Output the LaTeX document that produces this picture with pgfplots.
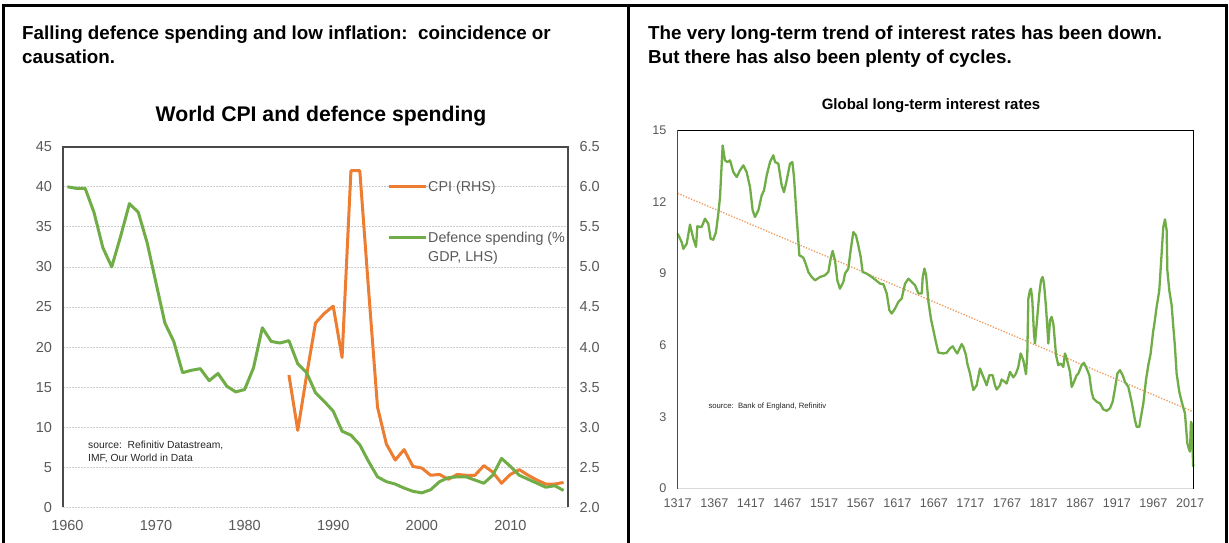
\documentclass[border=0pt]{standalone}
\usepackage{pgfplots}
\usepackage{pgfplotstable}
\pgfplotsset{compat=1.18}
\usepackage{fontspec}
\setmainfont{Liberation Sans}

\definecolor{cpiorange}{HTML}{ED7D31}
\definecolor{defgreen}{HTML}{70AD47}
\definecolor{labelgray}{HTML}{595959}
\definecolor{gridgray}{HTML}{CCCCCC}
\definecolor{framegray}{HTML}{4A4A4A}
\definecolor{trendorange}{HTML}{F19A5C}
\definecolor{basegray}{HTML}{D9D9D9}

% legend keys: a short line at text height; the two-line entry keeps its key on the first line
\pgfplotsset{
  keyline/.style={legend image code/.code={\draw[##1, line cap=butt] (0pt,5pt) -- (37pt,5pt);}},
  keylinetop/.style={legend image code/.code={\draw[##1, line cap=butt] (0pt,24pt) -- (37pt,24pt);}},
}

% Defence spending, % of GDP (left-hand scale)
\pgfplotstableread{
year def
1960 40.0
1961 39.8
1962 39.8
1963 36.8
1964 32.4
1965 30.0
1966 33.8
1967 37.9
1968 36.8
1969 33.0
1970 28.0
1971 23.0
1972 20.7
1973 16.8
1974 17.1
1975 17.3
1976 15.8
1977 16.7
1978 15.1
1979 14.4
1980 14.7
1981 17.4
1982 22.4
1983 20.7
1984 20.5
1985 20.8
1986 17.9
1987 16.8
1988 14.3
1989 13.2
1990 12.0
1991 9.5
1992 9.0
1993 7.8
1994 5.7
1995 3.8
1996 3.2
1997 2.9
1998 2.4
1999 2.0
2000 1.8
2001 2.2
2002 3.2
2003 3.7
2004 3.8
2005 3.8
2006 3.4
2007 3.0
2008 4.0
2009 6.1
2010 5.1
2011 4.0
2012 3.5
2013 3.0
2014 2.5
2015 2.7
2016 2.1
}\defencetable

% World CPI (right-hand scale)
\pgfplotstableread{
year cpi
1985 3.65
1986 2.96
1987 3.65
1988 4.30
1989 4.42
1990 4.51
1991 3.87
1992 6.20
1993 6.20
1994 4.70
1995 3.25
1996 2.79
1997 2.59
1998 2.72
1999 2.51
2000 2.49
2001 2.40
2002 2.41
2003 2.35
2004 2.41
2005 2.40
2006 2.40
2007 2.52
2008 2.44
2009 2.30
2010 2.41
2011 2.47
2012 2.40
2013 2.34
2014 2.29
2015 2.29
2016 2.31
}\cpitable

% Global long-term interest rates, %
\pgfplotstableread{
year rate
1317.0 10.66
1322.4 10.31
1324.7 10.03
1329.3 10.24
1333.8 11.04
1338.4 10.45
1342.0 10.11
1343.8 10.97
1349.7 10.94
1354.3 11.29
1358.8 11.08
1362.0 10.45
1365.6 10.41
1369.3 10.73
1372.5 11.50
1374.8 12.19
1378.4 14.35
1381.6 13.73
1384.8 13.66
1388.5 13.73
1393.0 13.24
1397.6 13.03
1402.1 13.31
1406.7 13.52
1411.2 13.24
1415.8 12.61
1419.4 11.64
1422.6 11.36
1427.2 11.64
1431.7 12.26
1434.9 12.47
1438.6 13.10
1443.1 13.66
1447.7 13.94
1450.0 13.66
1454.5 13.59
1459.1 12.68
1462.2 12.40
1465.9 12.89
1470.4 13.59
1473.6 13.66
1475.9 13.03
1479.5 11.36
1483.2 9.76
1488.6 9.66
1491.8 9.41
1495.5 9.06
1500.0 8.85
1504.6 8.71
1511.4 8.85
1518.3 8.92
1522.8 9.06
1526.0 9.62
1528.7 9.94
1531.9 9.55
1535.1 8.71
1538.7 8.36
1543.3 8.64
1545.6 8.99
1550.1 9.20
1553.3 9.97
1557.0 10.73
1560.6 10.59
1563.8 10.17
1567.0 9.69
1569.7 9.06
1575.2 8.99
1582.1 8.85
1588.0 8.71
1593.5 8.57
1598.0 8.55
1602.6 8.16
1606.2 7.46
1609.4 7.32
1614.0 7.53
1618.5 7.81
1623.1 7.95
1627.6 8.57
1632.2 8.78
1636.7 8.64
1641.3 8.50
1645.9 8.16
1650.4 8.16
1651.8 8.85
1654.1 9.20
1656.4 8.92
1659.6 7.81
1663.0 7.10
1666.5 6.60
1670.0 6.10
1673.1 5.69
1679.9 5.65
1684.5 5.68
1689.0 5.86
1692.7 5.95
1697.2 5.72
1699.0 5.65
1705.0 6.04
1707.2 5.93
1710.9 5.58
1712.7 5.23
1716.4 4.81
1718.6 4.46
1720.9 4.12
1725.5 4.32
1730.0 5.02
1734.6 4.67
1739.1 4.32
1742.8 4.74
1747.3 4.74
1750.5 4.32
1752.8 4.14
1757.3 4.32
1759.6 4.56
1764.2 4.46
1766.5 4.39
1771.0 4.88
1775.6 4.65
1779.2 4.81
1782.4 5.09
1785.6 5.65
1789.2 5.37
1792.9 4.78
1794.7 5.65
1796.1 7.94
1798.3 8.29
1799.7 8.36
1801.5 7.88
1803.8 6.48
1805.2 6.07
1811.1 8.16
1813.4 8.71
1815.6 8.85
1817.5 8.57
1820.2 7.60
1822.0 6.76
1823.4 6.07
1825.7 7.04
1827.9 7.18
1830.2 6.90
1831.1 6.62
1833.9 5.58
1837.0 5.16
1840.2 5.23
1843.9 5.09
1846.1 5.65
1848.4 5.44
1853.0 4.88
1855.3 4.25
1857.5 4.39
1862.1 4.74
1864.4 4.81
1868.9 5.16
1872.1 5.26
1875.8 5.02
1879.4 4.74
1882.6 4.04
1884.9 3.77
1889.4 3.63
1894.0 3.56
1898.5 3.31
1903.1 3.25
1907.6 3.35
1911.3 3.63
1914.5 4.18
1917.7 4.81
1921.3 4.95
1925.0 4.74
1928.1 4.46
1932.7 4.25
1937.2 3.63
1941.8 2.86
1944.1 2.58
1947.7 2.58
1950.0 3.00
1953.2 3.56
1956.8 4.53
1960.0 5.16
1963.2 5.65
1966.8 6.62
1967.7 6.76
1971.4 7.60
1975.0 8.29
1978.2 9.83
1980.5 10.94
1982.8 11.26
1985.1 10.80
1986.0 9.13
1988.7 8.29
1991.9 7.67
1994.2 6.76
1996.4 5.93
1998.7 4.81
2002.4 4.04
2005.6 3.63
2010.1 3.14
2013.3 1.89
2016.0 1.61
2016.9 1.54
2018.3 2.79
2019.2 2.72
2020.6 1.61
2021.3 0.91
}\ratetable

\begin{document}
\begin{tikzpicture}
\path[use as bounding box] (0pt,0pt) rectangle (1229pt,-543pt);

\begin{scope}[x=1pt,y=-1pt]
  \fill[white] (0,0) rectangle (1229,543);
  % panel borders
  \draw[black,line width=2.5pt] (1.8,5.3) -- (1227.5,5.3);
  \draw[black,line width=3pt] (3.3,4) -- (3.3,543);
  \draw[black,line width=3pt] (628.7,4) -- (628.7,543);
  \draw[black,line width=3pt] (1226,4) -- (1226,543);

  % headings
  \node[anchor=base west, inner sep=0pt, font=\fontsize{18.8}{24}\selectfont\bfseries]
    at (22,39.5) {Falling defence spending and low inflation:\ \ coincidence or};
  \node[anchor=base west, inner sep=0pt, font=\fontsize{18.8}{24}\selectfont\bfseries]
    at (22,63.5) {causation.};
  \node[anchor=base west, inner sep=0pt, font=\fontsize{18.8}{24}\selectfont\bfseries]
    at (648,39.5) {The very long-term trend of interest rates has been down.};
  \node[anchor=base west, inner sep=0pt, font=\fontsize{18.8}{24}\selectfont\bfseries]
    at (648,63.5) {But there has also been plenty of cycles.};

  % chart titles
  \node[anchor=base, inner sep=0pt, font=\fontsize{21.2}{22}\selectfont\bfseries]
    at (321,121.2) {World CPI and defence spending};
  \node[anchor=base, inner sep=0pt, font=\fontsize{15}{15}\selectfont\bfseries]
    at (931,109.4) {Global long-term interest rates};

  % sources
  \node[anchor=base west, inner sep=0pt, text=black!85, font=\fontsize{10.3}{12}\selectfont]
    at (88,448.7) {source:\ \ Refinitiv Datastream,};
  \node[anchor=base west, inner sep=0pt, text=black!85, font=\fontsize{10.3}{12}\selectfont]
    at (88,461) {IMF, Our World in Data};
  \node[anchor=base west, inner sep=0pt, text=black!85, font=\fontsize{7.7}{9}\selectfont]
    at (708.3,408) {source:\ \ Bank of England, Refinitiv};
\end{scope}

% ---------- left chart: CPI on the right-hand scale ----------
\begin{axis}[
  at={(63pt,-507.3pt)}, anchor=south west,
  scale only axis, width=505pt, height=360.6pt,
  xmin=1959.5, xmax=2016.5, ymin=2, ymax=6.5,
  axis x line=none, xtick=\empty,
  axis y line*=right,
  y axis line style={draw=none},
  ytick={2,2.5,3,3.5,4,4.5,5,5.5,6,6.5},
  ymajorgrids,
  major grid style={gridgray, line width=0.8pt, dash pattern=on 2pt off 1pt},
  major tick length=0pt,
  yticklabel style={font=\fontsize{14.5}{14.5}\selectfont, text=labelgray, xshift=8pt,
    /pgf/number format/.cd, fixed, fixed zerofill, precision=1, assume math mode=true},
]
\addplot[cpiorange, line width=3pt, line join=round] table[x=year, y=cpi] {\cpitable};
\end{axis}

% ---------- left chart: defence spending on the left-hand scale ----------
\begin{axis}[
  at={(63pt,-507.3pt)}, anchor=south west,
  scale only axis, width=505pt, height=360.6pt,
  xmin=1959.5, xmax=2016.5, ymin=0, ymax=45,
  axis line style={draw=none},
  clip=false,
  xtick={1960,1970,1980,1990,2000,2010},
  ytick={0,5,10,15,20,25,30,35,40,45},
  major tick length=0pt,
  tick label style={font=\fontsize{14.5}{14.5}\selectfont, text=labelgray},
  yticklabel style={xshift=-7.5pt},
  xticklabel style={yshift=-9.4pt},
  /pgf/number format/assume math mode=true,
  /pgf/number format/1000 sep={},
  legend cell align=left,
  legend style={at={(axis description cs:0.6416,0.9077)}, anchor=north west,
    draw=none, fill=none, inner sep=0pt,
    font=\fontsize{14.3}{19}\selectfont, text=labelgray,
    cells={anchor=base west, align=left},
    nodes={inner sep=1pt},
    row sep=37pt},
]
\addlegendimage{cpiorange, line width=3pt, keyline}
\addlegendentry{CPI (RHS)}
\addlegendimage{defgreen, line width=3pt, keylinetop}
\addlegendentry{Defence spending (\%\\GDP, LHS)}
\addplot[defgreen, line width=3pt, line join=round, forget plot]
  table[x=year, y=def] {\defencetable};
\draw[framegray, line width=2pt, line join=miter]
  (rel axis cs:0,0) -- (rel axis cs:0,1) -- (rel axis cs:1,1) -- (rel axis cs:1,0);
\end{axis}

% ---------- right chart: long-term interest rates ----------
\begin{axis}[
  at={(677.7pt,-488.5pt)}, anchor=south west,
  scale only axis, width=515.6pt, height=358.5pt,
  xmin=1317, xmax=2021.5, ymin=0, ymax=15,
  axis line style={draw=none},
  clip=false,
  xtick={1317,1367,...,2017},
  ytick={0,3,6,9,12,15},
  major tick length=0pt,
  tick label style={font=\fontsize{12.6}{12.6}\selectfont, text=labelgray},
  yticklabel style={xshift=-7.8pt},
  xticklabel style={yshift=-6.6pt},
  /pgf/number format/assume math mode=true,
  /pgf/number format/1000 sep={},
]
\draw[basegray, line width=1pt] (rel axis cs:0,0) -- (rel axis cs:1,0);
\addplot[trendorange, line width=1.3pt, dash pattern=on 1.3pt off 1.6pt]
  coordinates {(1317,12.35) (2021.5,3.21)};
\addplot[defgreen, line width=2.3pt, line join=round] table[x=year, y=rate] {\ratetable};
\draw[framegray, line width=1.5pt] (rel axis cs:0,0) -- (rel axis cs:0,1);
\draw[black, line width=1pt] (rel axis cs:0,1) -- (rel axis cs:1,1) -- (rel axis cs:1,0);
\end{axis}
\end{tikzpicture}
\end{document}
